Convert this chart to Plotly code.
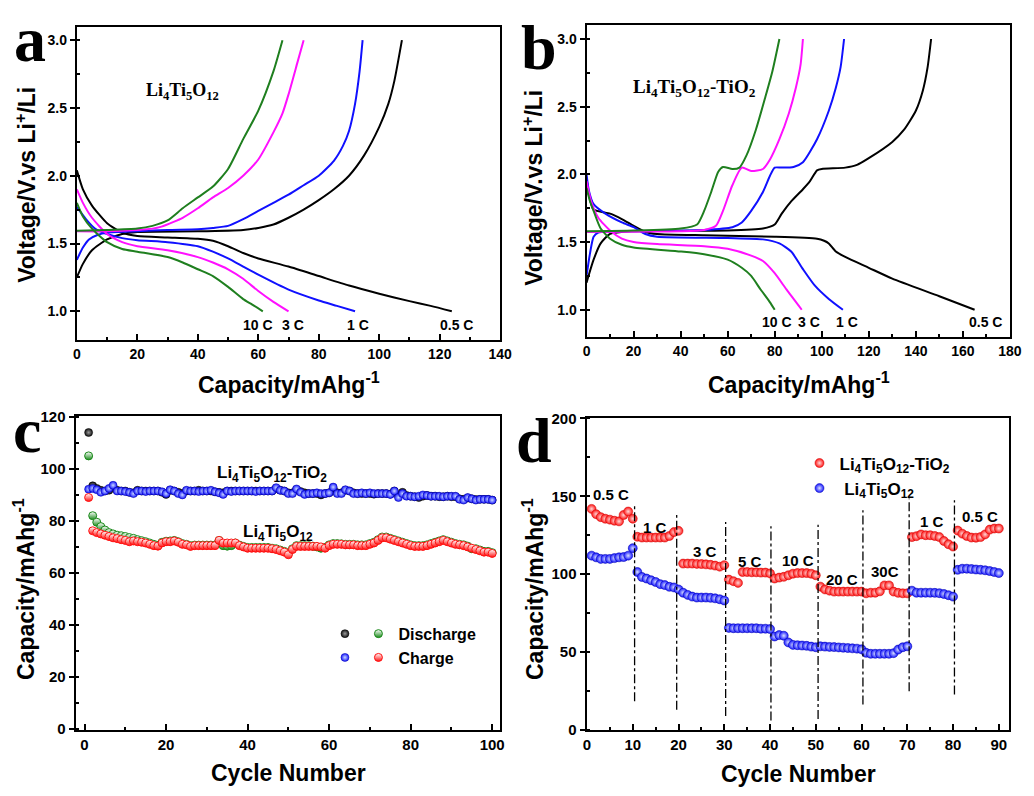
import plotly.graph_objects as go

# ---------------- Panel a: Li4Ti5O12 charge/discharge ----------------
a_rates = ["0.5 C", "1 C", "3 C", "10 C"]
a_dis_cap = {
    "0.5 C": [0, 2, 5, 10, 15, 20, 30, 40, 45, 50, 55, 60, 70, 80, 90, 100, 110, 117, 124],
    "1 C": [0, 3, 6, 10, 15, 20, 30, 40, 45, 50, 55, 60, 70, 80, 86, 92],
    "3 C": [0, 2, 5, 10, 15, 20, 30, 40, 45, 50, 55, 60, 65, 70],
    "10 C": [0, 2, 5, 10, 15, 20, 30, 35, 40, 45, 50, 55, 58, 61.5],
}
a_dis_v = {
    "0.5 C": [2.04, 1.90, 1.78, 1.65, 1.58, 1.555, 1.545, 1.535, 1.52, 1.48, 1.43, 1.39, 1.33, 1.26, 1.19, 1.13, 1.075, 1.04, 1.0],
    "1 C": [1.77, 1.68, 1.61, 1.57, 1.54, 1.525, 1.51, 1.48, 1.44, 1.39, 1.33, 1.27, 1.16, 1.08, 1.04, 1.0],
    "3 C": [1.90, 1.80, 1.69, 1.57, 1.51, 1.48, 1.45, 1.40, 1.36, 1.31, 1.24, 1.15, 1.07, 1.0],
    "10 C": [1.80, 1.70, 1.61, 1.51, 1.46, 1.44, 1.40, 1.36, 1.31, 1.26, 1.18, 1.09, 1.05, 1.0],
}
a_chg_cap = {
    "0.5 C": [0, 2, 5, 10, 15, 20, 40, 55, 60, 65, 70, 75, 80, 85, 90, 95, 100, 103, 105, 107.5],
    "1 C": [0, 2, 4, 7, 10, 20, 30, 40, 45, 50, 55, 60, 65, 70, 75, 80, 85, 88, 90, 92, 93.5, 94.5],
    "3 C": [0, 10, 20, 25, 28, 32, 35, 40, 45, 50, 55, 60, 65, 68, 70, 73, 75],
    "10 C": [0, 10, 20, 25, 30, 35, 40, 45, 50, 55, 60, 65, 68],
}
a_chg_v = {
    "0.5 C": [1.25, 1.35, 1.45, 1.53, 1.57, 1.585, 1.59, 1.60, 1.615, 1.64, 1.69, 1.75, 1.82, 1.90, 2.0, 2.15, 2.36, 2.53, 2.70, 3.0],
    "1 C": [1.38, 1.47, 1.53, 1.565, 1.58, 1.59, 1.60, 1.605, 1.615, 1.63, 1.68, 1.74, 1.80, 1.86, 1.93, 2.0, 2.11, 2.22, 2.33, 2.53, 2.77, 3.0],
    "3 C": [1.59, 1.59, 1.60, 1.61, 1.625, 1.66, 1.69, 1.76, 1.84, 1.91, 2.0, 2.12, 2.32, 2.46, 2.60, 2.84, 3.0],
    "10 C": [1.595, 1.60, 1.61, 1.63, 1.67, 1.76, 1.84, 1.92, 2.05, 2.27, 2.48, 2.77, 3.0],
}
a_label_x = [125.5, 93, 71.4, 60]

# ---------------- Panel b: Li4Ti5O12-TiO2 charge/discharge ----------------
b_dis_cap = {
    "0.5 C": [0, 1, 3, 10, 15, 20, 25, 30, 50, 80, 98, 101, 103, 106, 110, 120, 130, 150, 165],
    "1 C": [0, 1, 3, 8, 15, 20, 25, 30, 60, 75, 82, 87, 92, 97, 103, 109],
    "3 C": [0, 2, 5, 10, 15, 20, 30, 50, 60, 70, 75, 80, 85, 91.5],
    "10 C": [0, 1.5, 3, 6, 10, 15, 20, 40, 50, 60, 66, 70, 74, 78, 80],
}
b_dis_v = {
    "0.5 C": [1.97, 1.85, 1.74, 1.71, 1.67, 1.62, 1.575, 1.56, 1.55, 1.54, 1.525, 1.51, 1.49, 1.43, 1.39, 1.31, 1.23, 1.10, 1.0],
    "1 C": [2.0, 1.88, 1.78, 1.71, 1.645, 1.61, 1.56, 1.54, 1.53, 1.52, 1.49, 1.43, 1.30, 1.18, 1.08, 1.0],
    "3 C": [1.95, 1.80, 1.68, 1.585, 1.525, 1.50, 1.485, 1.47, 1.45, 1.40, 1.36, 1.27, 1.15, 1.0],
    "10 C": [1.9, 1.8, 1.73, 1.60, 1.525, 1.48, 1.46, 1.43, 1.41, 1.37, 1.31, 1.25, 1.15, 1.055, 1.0],
}
b_chg_cap = {
    "0.5 C": [0, 3, 6, 10, 20, 60, 75, 80, 83, 87, 92, 95, 98, 100, 110, 115, 120, 130, 135, 140, 143, 145, 146.5],
    "1 C": [0, 1.5, 3, 5, 20, 50, 62, 66, 70, 75, 78, 80, 83, 88, 92, 98, 103, 106, 108, 109.5],
    "3 C": [0, 30, 40, 50, 55, 58, 62, 66, 70, 75, 78, 82, 86, 89, 91, 92],
    "10 C": [0, 20, 40, 47, 50, 53, 56, 58, 62, 65, 68, 72, 76, 79, 82],
}
b_chg_v = {
    "0.5 C": [1.2, 1.37, 1.49, 1.56, 1.58, 1.585, 1.60, 1.63, 1.71, 1.80, 1.89, 1.95, 2.03, 2.04, 2.05, 2.07, 2.12, 2.24, 2.33, 2.47, 2.62, 2.79, 3.0],
    "1 C": [1.25, 1.42, 1.54, 1.57, 1.58, 1.59, 1.61, 1.645, 1.73, 1.87, 1.99, 2.05, 2.05, 2.055, 2.09, 2.26, 2.47, 2.64, 2.79, 3.0],
    "3 C": [1.575, 1.578, 1.58, 1.59, 1.62, 1.73, 1.92, 2.05, 2.025, 2.04, 2.11, 2.26, 2.45, 2.64, 2.81, 3.0],
    "10 C": [1.58, 1.585, 1.60, 1.63, 1.73, 1.87, 2.02, 2.055, 2.04, 2.05, 2.14, 2.33, 2.57, 2.76, 3.0],
}
b_label_x = [169.5, 110.7, 94.7, 80.8]

rate_colors = {"0.5 C": "#000000", "1 C": "#1010ff", "3 C": "#ff10ff", "10 C": "#1f7f1f"}

# ---------------- Panel c: cycling at 1 C ----------------
c_cycles = list(range(1, 101))
c_tio2_dis = [114.0, 93.5, 92.5, 91.8, 91.5, 91.8, 93.0, 91.8, 91.5, 91.5,
              91.0, 90.8, 91.8, 91.5, 91.5, 91.5, 91.5, 91.5, 91.0, 90.2,
              91.8, 91.5, 91.0, 90.5, 91.5, 91.5, 91.5, 91.8, 91.5, 91.5,
              91.5, 91.2, 91.0, 90.8, 91.5, 91.5, 91.5, 91.5, 91.5, 91.5,
              91.5, 91.5, 91.5, 91.5, 91.5, 91.5, 92.5, 91.8, 91.5, 90.8,
              90.8, 92.0, 91.3, 90.8, 90.5, 90.5, 90.5, 90.0, 90.5, 90.8,
              92.5, 90.8, 90.8, 91.8, 91.5, 90.8, 90.5, 90.5, 90.5, 90.5,
              90.3, 90.5, 90.5, 90.5, 90.3, 91.5, 89.8, 91.0, 89.8, 89.5,
              89.3, 89.0, 89.5, 89.8, 89.5, 89.5, 89.3, 89.3, 89.5, 89.3,
              89.3, 88.5, 88.3, 88.8, 88.5, 88.2, 88.3, 88.3, 88.3, 88.0]
c_tio2_chg = [92.2, 92.5, 92.0, 91.0, 91.5, 92.5, 93.7, 91.5, 91.5, 91.3,
              91.0, 90.5, 91.5, 91.5, 91.3, 91.5, 91.5, 91.5, 91.2, 90.5,
              92.0, 91.5, 90.5, 90.0, 91.8, 91.5, 91.5, 91.3, 91.5, 91.5,
              91.8, 91.2, 90.8, 90.2, 91.5, 91.3, 91.5, 91.5, 91.5, 91.5,
              91.5, 91.3, 91.5, 91.5, 91.5, 91.5, 92.8, 91.8, 91.5, 90.5,
              90.5, 92.3, 91.0, 90.2, 90.5, 90.5, 90.8, 90.5, 90.5, 90.8,
              93.0, 90.5, 90.5, 92.0, 91.5, 90.5, 90.5, 90.8, 90.5, 90.8,
              90.5, 90.5, 90.5, 90.5, 90.2, 91.5, 89.0, 90.5, 89.5, 89.5,
              89.3, 89.5, 90.0, 89.8, 89.5, 89.5, 89.5, 89.3, 89.5, 89.5,
              89.5, 88.3, 88.0, 89.0, 88.5, 88.0, 88.3, 88.3, 88.3, 88.0]
c_lto_dis = [105.0, 82.0, 79.5, 77.8, 76.5, 75.5, 75.0, 74.5, 74.3, 74.0,
             73.6, 73.3, 72.8, 72.4, 72.0, 71.5, 71.0, 70.6, 71.8, 72.2,
             72.3, 72.5, 72.0, 71.3, 71.0, 70.5, 70.7, 70.7, 70.7, 70.7,
             70.7, 70.7, 72.5, 70.5, 70.3, 70.5, 71.5, 70.7, 70.2, 69.8,
             69.8, 69.8, 69.8, 69.8, 69.8, 69.5, 69.3, 68.8, 68.3, 67.5,
             69.3, 70.5, 70.5, 70.5, 70.5, 70.3, 70.0, 69.5, 69.8, 70.8,
             71.3, 71.3, 71.2, 71.0, 71.0, 71.0, 70.8, 70.8, 70.8, 71.3,
             71.8, 72.8, 73.8, 73.8, 73.3, 72.8, 72.3, 71.8, 71.3, 70.8,
             70.5, 70.5, 70.5, 70.8, 71.3, 71.8, 72.3, 72.8, 72.3, 71.8,
             71.3, 71.0, 70.8, 70.3, 69.3, 69.3, 68.8, 68.3, 68.3, 67.8]
c_lto_chg = [89.0, 76.2, 75.5, 75.0, 74.5, 74.0, 73.5, 73.2, 72.8, 72.5,
             72.0, 72.3, 72.0, 71.8, 71.5, 71.0, 70.5, 70.3, 71.5, 72.0,
             72.0, 72.3, 71.8, 71.0, 70.8, 70.2, 70.5, 70.5, 70.5, 70.5,
             70.5, 70.5, 72.5, 71.5, 71.5, 71.5, 71.5, 70.5, 70.0, 69.5,
             69.5, 69.5, 69.5, 69.5, 69.5, 69.3, 69.0, 68.5, 68.0, 67.0,
             69.0, 70.2, 70.2, 70.2, 70.2, 70.2, 70.2, 70.0, 69.5, 70.5,
             71.0, 71.0, 71.0, 70.8, 70.8, 70.8, 70.5, 70.5, 70.5, 71.0,
             71.5, 72.5, 73.5, 73.5, 73.0, 72.5, 72.0, 71.5, 71.0, 70.5,
             70.2, 70.2, 70.2, 70.5, 71.0, 71.5, 72.0, 72.5, 72.0, 71.5,
             71.0, 70.8, 70.5, 70.0, 69.5, 69.0, 68.5, 68.0, 68.0, 67.5]

# ---------------- Panel d: rate capability ----------------
d_cycles = list(range(1, 91))
d_tio2 = [141.9, 138.5, 136.6, 135.6, 135.0, 134.3, 133.9, 138.0, 140.2, 135.6,
          124.0, 123.5, 123.5, 123.5, 123.5, 123.5, 123.5, 124.5, 127.0, 127.8,
          106.8, 106.8, 106.8, 106.6, 106.5, 106.3, 106.0, 105.5, 104.8, 105.8,
          96.5, 95.5, 94.4, 101.4, 101.4, 101.2, 101.2, 101.0, 101.0, 100.5,
          97.2, 97.8, 98.3, 99.3, 100.3, 100.7, 100.7, 100.7, 100.3, 99.3,
          92.0, 90.2, 89.4, 88.8, 88.8, 88.8, 88.8, 88.8, 88.8, 88.8,
          87.7, 88.1, 88.1, 89.0, 92.8, 92.8, 88.8, 88.0, 87.7, 87.7,
          123.8, 124.4, 125.5, 125.0, 125.0, 124.5, 123.8, 121.3, 119.2, 117.7,
          128.0, 126.0, 124.5, 123.5, 123.4, 123.8, 125.5, 128.6, 129.3, 129.3]
d_lto = [111.9, 110.8, 109.8, 109.8, 109.8, 110.3, 110.8, 111.0, 111.9, 116.7,
         101.4, 98.2, 97.2, 96.1, 95.0, 93.6, 93.0, 91.9, 91.5, 90.2,
         88.1, 86.7, 85.6, 85.0, 85.0, 85.0, 84.8, 84.5, 83.9, 83.1,
         65.5, 65.3, 65.3, 65.3, 65.3, 65.3, 65.3, 65.0, 65.0, 64.8,
         60.0, 60.9, 60.5, 56.2, 54.6, 54.4, 54.2, 54.0, 53.5, 53.1,
         53.7, 53.5, 53.3, 53.2, 53.0, 52.8, 52.6, 52.4, 52.2, 51.8,
         49.5, 48.9, 48.9, 48.9, 48.9, 48.9, 49.3, 51.6, 53.1, 53.7,
         89.4, 88.1, 88.1, 88.1, 88.1, 88.0, 87.8, 87.3, 86.5, 85.6,
         102.8, 103.5, 103.5, 103.3, 103.0, 102.8, 102.5, 102.0, 101.4, 100.7]
d_rate_labels = ["0.5 C", "1 C", "3 C", "5 C", "10 C", "20 C", "30C", "1 C", "0.5 C"]
d_label_x = [5.2, 14.9, 25.7, 35.7, 46.1, 55.8, 65.1, 75.5, 85.9]
d_label_y = [151, 130, 114.5, 108, 109, 96.5, 101.5, 134, 137]
d_boundaries = [10.4, 19.6, 30.3, 40.2, 50.5, 60.3, 70.4, 80.3]
d_bound_top = [144, 138, 133.5, 130.7, 131.8, 141, 148.6, 147.5]
d_bound_bottom = [18.5, 13, 9, 6, 7, 16.4, 24.8, 22.7]

LTO = "Li<sub>4</sub>Ti<sub>5</sub>O<sub>12</sub>"
LTO_TIO2 = "Li<sub>4</sub>Ti<sub>5</sub>O<sub>12</sub>-TiO<sub>2</sub>"

W, H = 1034, 796
SANS = "Liberation Sans, Arial, sans-serif"
SERIF = "Liberation Serif, Times New Roman, serif"

fig = go.Figure()


def px_x(p):
    return p / W


def px_y(p):
    return 1 - p / H


# curves for panels a and b
for panel, (dcap, dv, ccap, cv) in {
    "": (a_dis_cap, a_dis_v, a_chg_cap, a_chg_v),
    "2": (b_dis_cap, b_dis_v, b_chg_cap, b_chg_v),
}.items():
    for r in a_rates:
        for xs, ys in ((dcap[r], dv[r]), (ccap[r], cv[r])):
            fig.add_trace(go.Scatter(
                x=xs, y=ys, mode="lines", showlegend=False,
                line=dict(color=rate_colors[r], width=2, shape="spline", smoothing=0.6),
                xaxis="x" + panel, yaxis="y" + panel, hoverinfo="skip"))


def half(color):
    return dict(color="white", size=8, line=dict(color=color, width=1),
                gradient=dict(type="vertical", color=color))


# panel c
fig.add_trace(go.Scatter(x=c_cycles, y=c_tio2_dis, mode="markers", name=" ",
                         marker=dict(color="#111111", size=8, line=dict(color="#000000", width=0.5),
                                     gradient=dict(type="radial", color="#9a9a9a")),
                         xaxis="x3", yaxis="y3", legend="legend2", legendrank=1))
fig.add_trace(go.Scatter(x=c_cycles, y=c_tio2_chg, mode="markers", name="  ",
                         marker=dict(color="#1515ff", size=8, line=dict(color="#0000aa", width=0.5),
                                     gradient=dict(type="radial", color="#c8d8ff")),
                         xaxis="x3", yaxis="y3", legend="legend2", legendrank=2))
fig.add_trace(go.Scatter(x=c_cycles, y=c_lto_dis, mode="markers", name="Discharge",
                         marker=half("#1a8a1a"), xaxis="x3", yaxis="y3", legend="legend", legendrank=1))
fig.add_trace(go.Scatter(x=c_cycles, y=c_lto_chg, mode="markers", name="Charge",
                         marker=half("#ff1010"), xaxis="x3", yaxis="y3", legend="legend", legendrank=2))

# panel d
fig.add_trace(go.Scatter(x=d_cycles, y=d_tio2, mode="markers", name=LTO_TIO2,
                         marker=dict(color="#ff1515", size=9, line=dict(color="#cc0000", width=0.5),
                                     gradient=dict(type="radial", color="#ffd8d8")),
                         xaxis="x4", yaxis="y4", legend="legend3", legendrank=1))
fig.add_trace(go.Scatter(x=d_cycles, y=d_lto, mode="markers", name=" " + LTO,
                         marker=dict(color="#1515ff", size=9, line=dict(color="#0000aa", width=0.5),
                                     gradient=dict(type="radial", color="#d8e0ff")),
                         xaxis="x4", yaxis="y4", legend="legend3", legendrank=2))

tickfont = dict(family=SANS, size=14, color="black", weight="bold")


def xaxis(domain, rng, dtick, mdtick, anchor, tsize=14):
    return dict(domain=domain, range=rng, dtick=dtick, tick0=0, anchor=anchor,
                showline=True, linewidth=2, linecolor="black", mirror=True,
                ticks="inside", ticklen=6, tickwidth=1.8, tickcolor="black",
                minor=dict(dtick=mdtick, tick0=0, ticks="inside", ticklen=3, tickwidth=1.8, tickcolor="black"),
                showgrid=False, zeroline=False,
                tickfont=dict(tickfont, size=tsize))


def yaxis(domain, rng, dtick, mdtick, anchor, fmt=None, tsize=14):
    d = dict(domain=domain, range=rng, dtick=dtick, tick0=0, anchor=anchor,
             showline=True, linewidth=2, linecolor="black", mirror=True,
             ticks="outside", ticklen=5, tickwidth=1.8, tickcolor="black",
             minor=dict(dtick=mdtick, tick0=0, ticks="inside", ticklen=3, tickwidth=1.8, tickcolor="black"),
             showgrid=False, zeroline=False,
             tickfont=dict(tickfont, size=tsize))
    if fmt:
        d["tickformat"] = fmt
    return d


dom_a_x = [px_x(74), px_x(504)]
dom_a_y = [px_y(338), px_y(18)]
dom_b_x = [px_x(591.7), px_x(1021.7)]
dom_b_y = [px_y(335), px_y(16)]
dom_c_x = [px_x(72.7), px_x(503.3)]
dom_c_y = [px_y(737), px_y(416)]
dom_d_x = [px_x(591.7), px_x(1020.7)]
dom_d_y = [px_y(736.7), px_y(418.3)]

annotations = []


def ann(text, x, y, size, family=SANS, xref="paper", yref="paper", angle=0, xanchor="center", yanchor="middle", weight="bold"):
    annotations.append(dict(text=text, x=x, y=y, xref=xref, yref=yref, showarrow=False,
                            textangle=angle, xanchor=xanchor, yanchor=yanchor,
                            font=dict(family=family, size=size, color="black", weight=weight)))


# axis titles
cap_title = "Capacity/mAhg<sup>-1</sup>"
ann(cap_title, px_x(289), px_y(382), 23)
ann(cap_title, px_x(807), px_y(382), 23)
ann("Cycle Number", px_x(289), px_y(781), 23)
ann("Cycle Number", px_x(807), px_y(782), 23)
volt_title = "Voltage/V.vs Li<sup>+</sup>/Li"
ann(volt_title, px_x(22), px_y(180), 23, angle=-90)
ann(volt_title, px_x(537), px_y(183), 23, angle=-90)
ann(cap_title, px_x(21), px_y(593), 23, angle=-90)
ann(cap_title, px_x(538), px_y(593), 23, angle=-90)

# panel letters
for letter, x, y in (("a", 26, 31), ("b", 543, 39), ("c", 23, 431), ("d", 538, 441)):
    ann(letter, px_x(x), px_y(y), 64, family=SERIF)

# in-panel labels
ann(LTO, 35, 2.62, 18, family=SERIF, xref="x", yref="y")
ann(LTO_TIO2, 46, 2.64, 19, family=SERIF, xref="x2", yref="y2")
for r, xv in zip(a_rates, a_label_x):
    ann(r, xv, 0.9, 14, xref="x", yref="y")
for r, xv in zip(a_rates, b_label_x):
    ann(r, xv, 0.91, 14, xref="x2", yref="y2")
ann(LTO_TIO2, 46, 98, 17, xref="x3", yref="y3")
ann(LTO, 47.5, 75.5, 17, xref="x3", yref="y3")
for t, xv, yv in zip(d_rate_labels, d_label_x, d_label_y):
    ann(t, xv, yv, 15, xref="x4", yref="y4")

shapes = []
for xb, yt, yb in zip(d_boundaries, d_bound_top, d_bound_bottom):
    shapes.append(dict(type="line", xref="x4", yref="y4", x0=xb, x1=xb, y0=yb, y1=yt,
                       line=dict(color="black", width=1.3, dash="dashdot")))

legend_font = dict(family=SANS, size=16, color="black", weight="bold")
fig.update_layout(
    width=W, height=H, margin=dict(l=0, r=0, t=0, b=0),
    paper_bgcolor="white", plot_bgcolor="white",
    xaxis=xaxis(dom_a_x, [0, 140], 20, 10, "y"),
    yaxis=yaxis(dom_a_y, [0.79, 3.10], 0.5, 0.25, "x", ".1f"),
    xaxis2=xaxis(dom_b_x, [0, 180], 20, 10, "y2"),
    yaxis2=yaxis(dom_b_y, [0.80, 3.106], 0.5, 0.25, "x2", ".1f"),
    xaxis3=xaxis(dom_c_x, [-2.2, 101.8], 20, 10, "y3", 15),
    yaxis3=yaxis(dom_c_y, [-0.5, 120.3], 20, 10, "x3", None, 15),
    xaxis4=xaxis(dom_d_x, [-0.1, 92.2], 10, 5, "y4", 15),
    yaxis4=yaxis(dom_d_y, [0, 200], 50, 25, "x4", None, 15),
    legend=dict(x=px_x(360), y=px_y(621), xanchor="left", yanchor="top",
                bgcolor="rgba(0,0,0,0)", font=legend_font, tracegroupgap=0),
    legend2=dict(x=px_x(326), y=px_y(621), xanchor="left", yanchor="top",
                 bgcolor="rgba(0,0,0,0)", font=legend_font, tracegroupgap=0),
    legend3=dict(x=px_x(808), y=px_y(446), xanchor="left", yanchor="top",
                 bgcolor="rgba(0,0,0,0)", font=dict(legend_font, size=17), tracegroupgap=0),
    annotations=annotations, shapes=shapes,
    showlegend=True,
)

fig.write_html("out.html")
